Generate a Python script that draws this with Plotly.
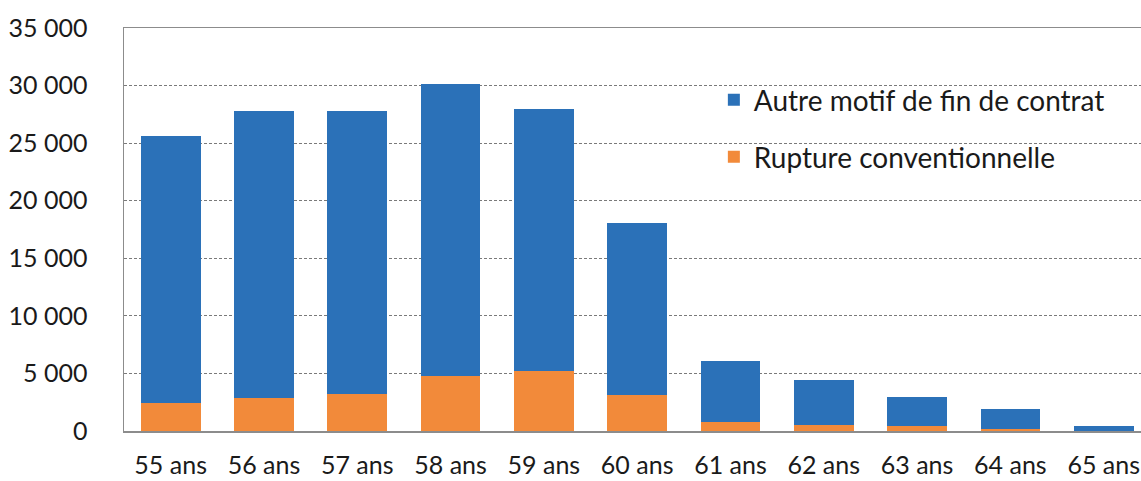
import plotly.graph_objects as go

categories = ["55 ans", "56 ans", "57 ans", "58 ans", "59 ans", "60 ans",
              "61 ans", "62 ans", "63 ans", "64 ans", "65 ans"]
rupture = [2430, 2830, 3240, 4750, 5240, 3100, 810, 520, 400, 170, 40]
total = [25620, 27800, 27800, 30100, 28000, 18100, 6110, 4400, 2960, 1940, 400]
autre = [t - r for t, r in zip(total, rupture)]
y_ticks = [0, 5000, 10000, 15000, 20000, 25000, 30000, 35000]

BLUE = "#2B71B8"
ORANGE = "#F28A3A"
FONT = "Lato"
TXT = "#1a1a1a"

fig = go.Figure()
fig.add_trace(go.Bar(x=categories, y=rupture, name="Rupture conventionnelle",
                     marker=dict(color=ORANGE, line=dict(width=0)), legend="legend2"))
fig.add_trace(go.Bar(x=categories, y=autre, name="Autre motif de fin de contrat",
                     marker=dict(color=BLUE, line=dict(width=0)), legend="legend"))

fig.update_layout(
    width=1141, height=481,
    margin=dict(l=124, r=0, t=28, b=50, autoexpand=False),
    paper_bgcolor="white", plot_bgcolor="white",
    barmode="stack", bargap=0.36,
    separators=", ",
    font=dict(family=FONT, size=25, color=TXT),
    showlegend=True,
    legend=dict(x=0.580, y=0.821, xanchor="left", yanchor="middle",
                bgcolor="rgba(0,0,0,0)", font=dict(size=28, family=FONT, color=TXT)),
    legend2=dict(x=0.580, y=0.680, xanchor="left", yanchor="middle",
                 bgcolor="rgba(0,0,0,0)", font=dict(size=28, family=FONT, color=TXT)),
    xaxis=dict(range=[-0.5, 10.4], showline=True, mirror=True, linecolor="#8c8c8c",
               linewidth=1.5, showgrid=False, ticks="", ticklabelstandoff=11,
               automargin=False,
               tickfont=dict(size=25, family=FONT, color=TXT), fixedrange=True),
    yaxis=dict(range=[0, 35000], tickvals=y_ticks, tickformat=",d",
               showline=True, linecolor="#8c8c8c", linewidth=1.5,
               showgrid=True, gridcolor="#7a7a7a", gridwidth=1, griddash="3px,2px",
               zeroline=False, ticks="", ticklabelstandoff=30, automargin=False,
               tickfont=dict(size=25, family=FONT, color=TXT), fixedrange=True),
)

fig.write_html("out.html", config={"displayModeBar": False, "staticPlot": True},
               post_script="document.body.style.margin='0px';document.body.style.overflow='hidden';")
